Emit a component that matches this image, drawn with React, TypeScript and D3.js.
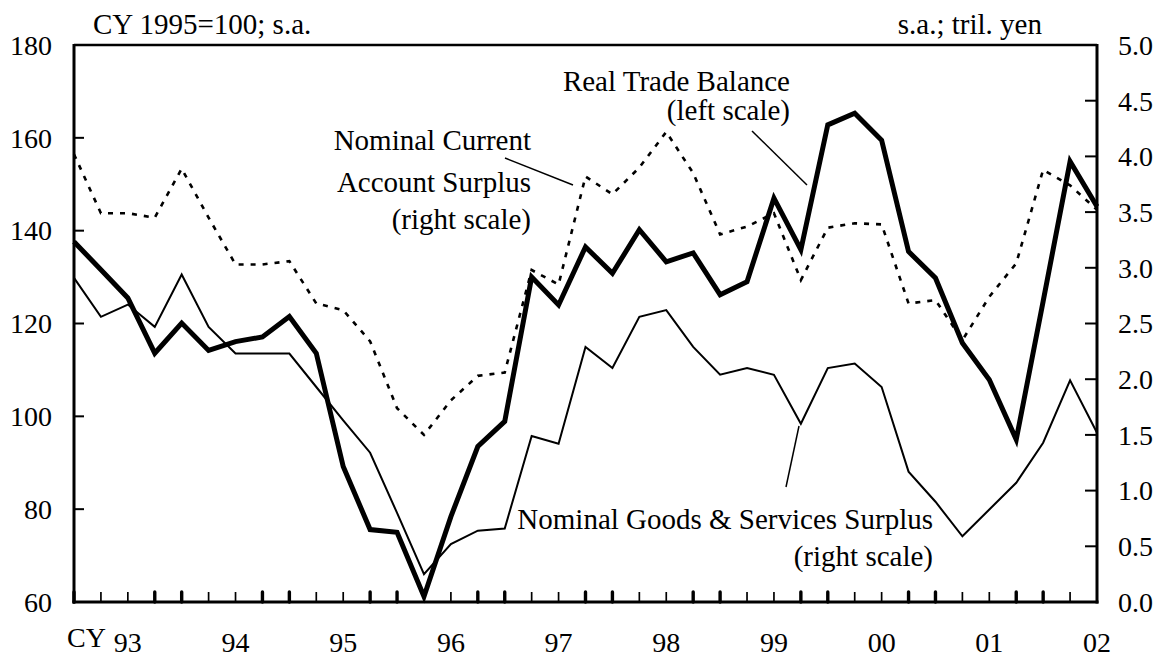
import React from "react";
import * as d3 from "d3";

const realTradeBalance = [137.6, 131.6, 125.5, 113.6, 120.1, 114.2, 116.1, 117.1, 121.5, 113.6, 89.2, 75.6, 75.0, 61.2, 78.4, 93.5, 98.9, 130.0, 124.0, 136.5, 130.8, 140.2, 133.3, 135.2, 126.2, 129.0, 147.0, 135.9, 162.8, 165.3, 159.5, 135.5, 129.8, 115.8, 107.9, 95.0, 124.8, 154.9, 145.2];
const currentAccount = [4.02, 3.49, 3.49, 3.45, 3.89, 3.45, 3.03, 3.03, 3.06, 2.68, 2.62, 2.34, 1.74, 1.50, 1.81, 2.03, 2.06, 2.98, 2.85, 3.82, 3.66, 3.90, 4.22, 3.85, 3.30, 3.37, 3.49, 2.89, 3.36, 3.40, 3.39, 2.68, 2.71, 2.35, 2.74, 3.04, 3.88, 3.74, 3.52];
const goodsServices = [2.91, 2.56, 2.67, 2.47, 2.94, 2.47, 2.23, 2.23, 2.23, 1.93, 1.63, 1.34, 0.80, 0.25, 0.52, 0.64, 0.66, 1.49, 1.42, 2.29, 2.10, 2.56, 2.62, 2.29, 2.04, 2.10, 2.04, 1.60, 2.10, 2.14, 1.93, 1.17, 0.90, 0.59, 0.83, 1.07, 1.43, 1.99, 1.52];
const yearLabels = ["93", "94", "95", "96", "97", "98", "99", "00", "01", "02"];
const leftTicks = [60, 80, 100, 120, 140, 160, 180];
const rightTicks = [0, 0.5, 1, 1.5, 2, 2.5, 3, 3.5, 4, 4.5, 5];

const W = 1160, H = 659;
const X0 = 74, X1 = 1097, Y0 = 45, Y1 = 602;
const FONT = "Liberation Serif, Times New Roman, DejaVu Serif, serif";

export default function App() {
  const n = realTradeBalance.length;
  const x = d3.scaleLinear().domain([0, n - 1]).range([X0, X1]);
  const yL = d3.scaleLinear().domain([60, 180]).range([Y1, Y0]);
  const yR = d3.scaleLinear().domain([0, 5]).range([Y1, Y0]);
  const lineL = d3.line<number>().x((_, i) => x(i)).y((d) => yL(d));
  const lineR = d3.line<number>().x((_, i) => x(i)).y((d) => yR(d));
  const idx = d3.range(n - 1);
  const ts: React.CSSProperties = { fontFamily: FONT };

  return (
    <svg width={W} height={H} style={{ position: "absolute", left: 0, top: 0, background: "#fff", fontFamily: FONT }}>
      <rect x={0} y={0} width={W} height={H} fill="#fff" />
      {/* series */}
      <path d={lineR(currentAccount) || ""} fill="none" stroke="#000" strokeWidth={2.6} strokeDasharray="5,7" />
      <path d={lineR(goodsServices) || ""} fill="none" stroke="#000" strokeWidth={2} strokeLinejoin="miter" />
      <path d={lineL(realTradeBalance) || ""} fill="none" stroke="#000" strokeWidth={5} strokeLinejoin="miter" />

      {/* frame */}
      <line x1={X0} x2={X1} y1={Y0} y2={Y0} stroke="#000" strokeWidth={2.5} />
      <line x1={X0} x2={X0} y1={Y0 - 1} y2={Y1 + 1.5} stroke="#000" strokeWidth={3} />
      <line x1={X1} x2={X1} y1={Y0 - 1} y2={Y1 + 1.5} stroke="#000" strokeWidth={3} />
      <line x1={X0 - 1.5} x2={X1 + 1.5} y1={Y1} y2={Y1} stroke="#000" strokeWidth={3} />

      {/* left ticks */}
      {leftTicks.map((t) => (
        <g key={"l" + t}>
          <line x1={X0} x2={X0 + 10} y1={yL(t)} y2={yL(t)} stroke="#000" strokeWidth={2} />
          <text style={ts} x={52} y={yL(t)} dy="0.35em" textAnchor="end" fontSize={28}>{t}</text>
        </g>
      ))}
      {/* right ticks */}
      {rightTicks.map((t) => (
        <g key={"r" + t}>
          <line x1={X1 - 12} x2={X1} y1={yR(t)} y2={yR(t)} stroke="#000" strokeWidth={2} />
          <text style={ts} x={1118} y={yR(t)} dy="0.35em" textAnchor="start" fontSize={28}>{t.toFixed(1)}</text>
        </g>
      ))}
      {/* bottom ticks */}
      {idx.map((i) => {
        const bold = i % 4 === 0 || i % 4 === 3;
        return (
          <line key={"b" + i} x1={x(i)} x2={x(i)} y1={Y1 - 10} y2={Y1} stroke="#000" strokeWidth={bold ? 3.4 : 1.7} strokeLinecap={bold ? "round" : "butt"} />
        );
      })}
      {yearLabels.map((lab, k) => (
        <text style={ts} key={"y" + lab} x={x(2 + 4 * k)} y={652} textAnchor="middle" fontSize={28}>{lab}</text>
      ))}
      <text style={ts} x={67} y={647} fontSize={28}>CY</text>

      {/* units */}
      <text style={ts} x={93} y={34} fontSize={29}>CY 1995=100; s.a.</text>
      <text style={ts} x={1042} y={34} fontSize={29} textAnchor="end">s.a.; tril. yen</text>

      {/* annotations */}
      <text style={ts} x={790} y={91} fontSize={29} textAnchor="end">Real Trade Balance</text>
      <text style={ts} x={790} y={120} fontSize={29} textAnchor="end">(left scale)</text>
      <line x1={752} y1={131} x2={807} y2={185} stroke="#000" strokeWidth={1.5} />

      <text style={ts} x={531} y={150} fontSize={29} textAnchor="end">Nominal Current</text>
      <text style={ts} x={531} y={192} fontSize={29} textAnchor="end">Account Surplus</text>
      <text style={ts} x={531} y={229} fontSize={29} textAnchor="end">(right scale)</text>
      <line x1={505} y1={158} x2={573} y2={185} stroke="#000" strokeWidth={1.5} />

      <text style={ts} x={933} y={529} fontSize={29} textAnchor="end">Nominal Goods &amp; Services Surplus</text>
      <text style={ts} x={933} y={566} fontSize={29} textAnchor="end">(right scale)</text>
      <line x1={786} y1={487} x2={799} y2={426} stroke="#000" strokeWidth={1.5} />
    </svg>
  );
}
